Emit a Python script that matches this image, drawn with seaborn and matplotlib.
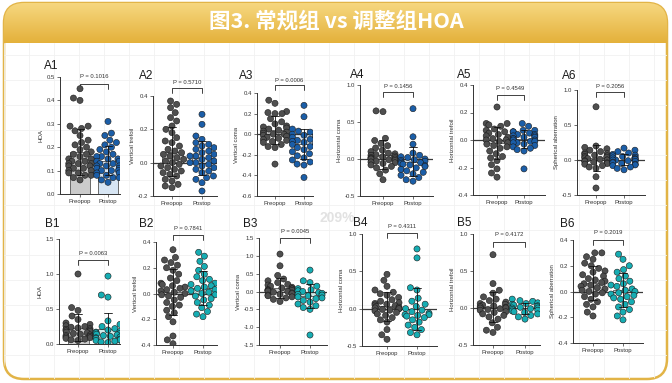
import numpy as np
import pandas as pd
import matplotlib
matplotlib.use('Agg')
import matplotlib.pyplot as plt
import seaborn as sns
from matplotlib.patches import FancyBboxPatch
from matplotlib.colors import LinearSegmentedColormap

W, H = 672, 383

TITLE = '图3. 常规组 vs 调整组HOA'
GROUPS = ['Preopop', 'Postop']
WATERMARK = '209%'

# Panel names, y-axis titles and p-values
PANELS = ['A1', 'A2', 'A3', 'A4', 'A5', 'A6', 'B1', 'B2', 'B3', 'B4', 'B5', 'B6']
YLABELS = ['HOA', 'Vertical trefoil', 'Vertical coma', 'Horizontal coma',
           'Horizontal trefoil', 'Spherical aberration'] * 2
PVALUES = ['0.1016', '0.5710', '0.0006', '0.1456', '0.4549', '0.2056',
           '0.0063', '0.7841', '0.0045', '0.4311', '0.4172', '0.2019']
YTICKS = [
    [0.0, 0.1, 0.2, 0.3, 0.4, 0.5],
    [-0.2, 0.0, 0.2, 0.4],
    [-0.6, -0.4, -0.2, 0.0, 0.2, 0.4],
    [-0.5, 0.0, 0.5, 1.0],
    [-0.4, -0.2, 0.0, 0.2, 0.4],
    [-0.5, 0.0, 0.5, 1.0],
    [0.0, 0.5, 1.0, 1.5],
    [-0.4, -0.2, 0.0, 0.2, 0.4],
    [-1.5, -1.0, -0.5, 0.0, 0.5, 1.0, 1.5],
    [-0.5, 0.0, 0.5, 1.0],
    [-0.5, 0.0, 0.5, 1.0],
    [-0.4, -0.2, 0.0, 0.2, 0.4],
]

# Values read off the swarms (estimated)
a1_pre = [0.45, 0.41, 0.40, 0.29, 0.29, 0.28, 0.27, 0.25, 0.23, 0.22, 0.21, 0.20,
          0.19, 0.18, 0.17, 0.17, 0.16, 0.15, 0.15, 0.14, 0.14, 0.13, 0.13, 0.13,
          0.12, 0.12, 0.11, 0.11, 0.10, 0.10, 0.09, 0.09, 0.08, 0.08, 0.07, 0.06]
a1_post = [0.31, 0.26, 0.25, 0.23, 0.22, 0.21, 0.20, 0.19, 0.18, 0.17, 0.16, 0.16,
           0.15, 0.15, 0.14, 0.14, 0.13, 0.13, 0.12, 0.12, 0.12, 0.11, 0.11, 0.10,
           0.10, 0.10, 0.09, 0.09, 0.08, 0.08, 0.07, 0.07, 0.06, 0.05]
a2_pre = [0.37, 0.35, 0.33, 0.30, 0.27, 0.25, 0.22, 0.20, 0.18, 0.15, 0.13, 0.12,
          0.10, 0.08, 0.07, 0.06, 0.05, 0.04, 0.03, 0.02, 0.01, 0.00, -0.01, -0.02,
          -0.03, -0.04, -0.05, -0.06, -0.07, -0.08, -0.10, -0.11, -0.13, -0.14, -0.15]
a2_post = [0.29, 0.23, 0.16, 0.14, 0.12, 0.11, 0.10, 0.09, 0.08, 0.07, 0.06, 0.05,
           0.04, 0.04, 0.03, 0.02, 0.01, 0.00, 0.00, -0.01, -0.02, -0.03, -0.04,
           -0.05, -0.06, -0.08, -0.09, -0.10, -0.12, -0.17]
a3_pre = [0.33, 0.30, 0.22, 0.21, 0.20, 0.20, 0.15, 0.12, 0.10, 0.08, 0.07, 0.06,
          0.05, 0.04, 0.03, 0.02, 0.01, 0.00, 0.00, -0.01, -0.02, -0.03, -0.04,
          -0.05, -0.06, -0.07, -0.08, -0.10, -0.12, -0.13, -0.29]
a3_post = [0.28, 0.17, 0.05, 0.03, 0.02, 0.00, -0.01, -0.02, -0.03, -0.04, -0.05,
           -0.06, -0.07, -0.08, -0.09, -0.10, -0.11, -0.12, -0.13, -0.15, -0.17,
           -0.19, -0.21, -0.23, -0.25, -0.27, -0.29, -0.30, -0.42]
a4_pre = [0.65, 0.64, 0.28, 0.25, 0.21, 0.18, 0.15, 0.12, 0.10, 0.08, 0.07, 0.06,
          0.05, 0.04, 0.03, 0.02, 0.02, 0.01, 0.00, 0.00, -0.01, -0.02, -0.03,
          -0.04, -0.05, -0.06, -0.08, -0.10, -0.12, -0.15, -0.20, -0.28]
a4_post = [0.68, 0.30, 0.20, 0.08, 0.05, 0.03, 0.02, 0.00, -0.01, -0.02, -0.03,
           -0.04, -0.05, -0.06, -0.07, -0.08, -0.09, -0.10, -0.12, -0.14, -0.16,
           -0.18, -0.20, -0.22, -0.25, -0.28, -0.30]
a5_pre = [0.24, 0.12, 0.12, 0.11, 0.10, 0.08, 0.07, 0.06, 0.05, 0.04, 0.03, 0.02,
          0.01, 0.00, 0.00, -0.01, -0.02, -0.03, -0.04, -0.05, -0.06, -0.08, -0.10,
          -0.12, -0.13, -0.15, -0.18, -0.21, -0.24, -0.27]
a5_post = [0.12, 0.10, 0.07, 0.07, 0.06, 0.06, 0.05, 0.04, 0.04, 0.03, 0.03, 0.02,
           0.02, 0.01, 0.01, 0.00, 0.00, -0.01, -0.01, -0.02, -0.02, -0.03, -0.04,
           -0.05, -0.06, -0.07, -0.08, -0.21]
a6_pre = [0.76, 0.20, 0.18, 0.16, 0.14, 0.12, 0.10, 0.09, 0.08, 0.07, 0.06, 0.05,
          0.04, 0.03, 0.02, 0.01, 0.00, 0.00, -0.01, -0.02, -0.03, -0.04, -0.05,
          -0.06, -0.08, -0.10, -0.12, -0.24, -0.40]
a6_post = [0.17, 0.14, 0.12, 0.10, 0.08, 0.07, 0.06, 0.05, 0.04, 0.03, 0.02, 0.01,
           0.01, 0.00, 0.00, -0.01, -0.02, -0.03, -0.04, -0.05, -0.06, -0.07, -0.08,
           -0.10, -0.12, -0.14]
b1_pre = [1.00, 0.52, 0.48, 0.40, 0.35, 0.30, 0.28, 0.26, 0.25, 0.24, 0.23, 0.22,
          0.21, 0.20, 0.19, 0.18, 0.17, 0.16, 0.15, 0.14, 0.13, 0.12, 0.11, 0.10,
          0.09, 0.08, 0.07, 0.06, 0.05]
b1_post = [0.97, 0.70, 0.67, 0.33, 0.28, 0.25, 0.22, 0.20, 0.18, 0.17, 0.16, 0.15,
           0.14, 0.13, 0.12, 0.11, 0.10, 0.09, 0.08, 0.07, 0.06, 0.05, 0.04, 0.03, 0.02]
b2_pre = [0.34, 0.28, 0.26, 0.24, 0.22, 0.20, 0.18, 0.15, 0.12, 0.10, 0.08, 0.07,
          0.06, 0.05, 0.04, 0.03, 0.02, 0.01, 0.00, -0.01, -0.02, -0.03, -0.05,
          -0.07, -0.09, -0.10, -0.13, -0.15, -0.18, -0.22, -0.33, -0.36, -0.39]
b2_post = [0.32, 0.29, 0.25, 0.21, 0.18, 0.15, 0.13, 0.11, 0.10, 0.08, 0.07, 0.06,
           0.05, 0.04, 0.03, 0.02, 0.01, 0.00, -0.01, -0.02, -0.04, -0.05, -0.07,
           -0.09, -0.11, -0.14, -0.16, -0.18]
b3_pre = [1.05, 0.72, 0.45, 0.35, 0.30, 0.25, 0.20, 0.18, 0.15, 0.12, 0.10, 0.08,
          0.07, 0.05, 0.04, 0.03, 0.02, 0.01, 0.00, -0.02, -0.04, -0.06, -0.08,
          -0.10, -0.12, -0.15, -0.18, -0.22, -0.28]
b3_post = [0.60, 0.30, 0.25, 0.15, 0.08, 0.05, 0.02, 0.00, -0.03, -0.05, -0.08,
           -0.10, -0.12, -0.15, -0.18, -0.20, -0.25, -0.30, -0.35, -0.40, -0.45,
           -0.50, -1.22]
b4_pre = [0.46, 0.38, 0.30, 0.25, 0.22, 0.20, 0.18, 0.15, 0.12, 0.10, 0.08, 0.07,
          0.06, 0.05, 0.04, 0.03, 0.02, 0.01, 0.00, 0.00, -0.01, -0.02, -0.03,
          -0.05, -0.07, -0.09, -0.12, -0.15, -0.18, -0.28, -0.35, -0.41]
b4_post = [0.80, 0.68, 0.28, 0.25, 0.14, 0.10, 0.06, 0.03, 0.00, -0.02, -0.04,
           -0.06, -0.08, -0.08, -0.09, -0.10, -0.12, -0.15, -0.18, -0.22, -0.25,
           -0.28, -0.32, -0.35]
b5_pre = [0.72, 0.33, 0.24, 0.20, 0.15, 0.12, 0.10, 0.08, 0.06, 0.05, 0.04, 0.03,
          0.02, 0.01, 0.00, 0.00, -0.01, -0.02, -0.03, -0.05, -0.06, -0.08, -0.10,
          -0.12, -0.15, -0.20, -0.26, -0.30, -0.33]
b5_post = [0.12, 0.10, 0.09, 0.07, 0.06, 0.05, 0.04, 0.03, 0.02, 0.01, 0.00, 0.00,
           -0.01, -0.02, -0.03, -0.04, -0.05, -0.06, -0.08, -0.10, -0.12, -0.15]
b6_pre = [0.30, 0.30, 0.27, 0.25, 0.22, 0.20, 0.18, 0.16, 0.15, 0.13, 0.12, 0.10,
          0.09, 0.08, 0.07, 0.06, 0.05, 0.04, 0.03, 0.02, 0.01, 0.00, -0.01, -0.02,
          -0.04, -0.06, -0.08, -0.10, -0.12, -0.16, -0.19]
b6_post = [0.29, 0.25, 0.20, 0.17, 0.15, 0.12, 0.10, 0.08, 0.06, 0.05, 0.04, 0.02,
           0.01, 0.00, -0.01, -0.02, -0.03, -0.04, -0.05, -0.06, -0.08, -0.10, -0.12,
           -0.14, -0.16, -0.19, -0.22]

PRE = [a1_pre, a2_pre, a3_pre, a4_pre, a5_pre, a6_pre,
       b1_pre, b2_pre, b3_pre, b4_pre, b5_pre, b6_pre]
POST = [a1_post, a2_post, a3_post, a4_post, a5_post, a6_post,
        b1_post, b2_post, b3_post, b4_post, b5_post, b6_post]

# Layout in screen pixels: spine left, right, top tick, bottom tick,
# x of the two groups, y of p text, y of bracket, panel label x, y
LAYOUT = [
    (60, 120, 77, 194, 80, 108, 77, 84, 44, 66),
    (153, 217, 96, 196, 172, 202, 83, 88, 139, 76),
    (257, 313, 93, 196, 275, 304, 80, 85, 239, 76),
    (360, 433, 85, 196, 383, 413, 87, 92, 350, 75),
    (473, 545, 85, 195, 497, 524, 88, 95, 457, 75),
    (577, 645, 90, 195, 596, 624, 87, 92, 562, 76),
    (59, 120, 239, 344, 78, 108, 253, 260, 45, 224),
    (156, 217, 242, 345, 173, 203, 229, 235, 139, 224),
    (259, 327, 238, 345, 280, 310, 232, 238, 243, 224),
    (362, 437, 234, 346, 387, 417, 227, 233, 353, 223),
    (473, 540, 234, 345, 493, 525, 235, 242, 457, 223),
    (573, 643, 240, 343, 593, 623, 233, 240, 560, 224),
]

GRAY_DOT = '#4f4f4f'
BLUE_DOT = '#1b5ea8'
TEAL_DOT = '#16adb3'
GRAY_BAR = '#cbcbcb'
BLUE_BAR = '#d3e5f7'
TEAL_BAR = '#ccefee'

sns.set_style('ticks')
plt.rcParams['font.family'] = ['Liberation Sans', 'DejaVu Sans']

fig = plt.figure(figsize=(W / 100, H / 100), dpi=100)

# background card, banner and faint grid
bg = fig.add_axes([0, 0, 1, 1], zorder=-5)
bg.set_xlim(0, W)
bg.set_ylim(H, 0)
bg.axis('off')
card = FancyBboxPatch((4, 3), 663, 376, boxstyle='round,pad=0,rounding_size=20',
                      fc='white', ec='#e2b447', lw=1.8, zorder=0)
bg.add_patch(card)
for gx in np.arange(4, 668, 25):
    ln, = bg.plot([gx, gx], [43, 380], color='#f1f1f1', lw=0.6, zorder=1)
    ln.set_clip_path(card)
for gy in np.arange(55, 380, 25):
    ln, = bg.plot([4, 667], [gy, gy], color='#f1f1f1', lw=0.6, zorder=1)
    ln.set_clip_path(card)
banner_cmap = LinearSegmentedColormap.from_list('banner', ['#f6d77f', '#e4b13b'])
grad = np.linspace(0, 1, 64).reshape(-1, 1)
im = bg.imshow(grad, extent=[4, 667, 43, 3], cmap=banner_cmap, aspect='auto',
               origin='upper', zorder=2)
im.set_clip_path(card)
bg.text(W / 2, 21, TITLE, color='white', fontsize=15.5, fontweight='bold',
        ha='center', va='center', family=['Noto Sans CJK SC', 'DejaVu Sans'], zorder=3)
bg.text(337, 218, WATERMARK, color='#e2e2e2', fontsize=10, fontweight='bold',
        ha='center', va='center', zorder=3)


def px_axes(left, right, top, bottom):
    return fig.add_axes([left / W, 1 - bottom / H, (right - left) / W, (bottom - top) / H])


for i, name in enumerate(PANELS):
    left, right, top, bottom, xpre, xpost, ytxt, ybr, lx, ly = LAYOUT[i]
    ax = px_axes(left, right, top, bottom)
    ax.set_facecolor('none')
    row_b = name.startswith('B')
    dot_post = TEAL_DOT if row_b else BLUE_DOT
    bar_post = TEAL_BAR if row_b else BLUE_BAR

    df = pd.DataFrame({
        'group': [GROUPS[0]] * len(PRE[i]) + [GROUPS[1]] * len(POST[i]),
        'value': PRE[i] + POST[i],
    })

    sns.barplot(data=df, x='group', y='value', hue='group', order=GROUPS,
                hue_order=GROUPS, palette=[GRAY_BAR, bar_post], errorbar='sd',
                capsize=0.25, err_kws={'color': '#111111', 'linewidth': 0.6, 'zorder': 4},
                edgecolor='#555555', linewidth=0.6, width=0.7, legend=False, ax=ax)
    yt = YTICKS[i]
    if yt[0] < 0:
        ax.axhline(0, color='#3a3a3a', lw=0.9, zorder=2)
    sns.swarmplot(data=df, x='group', y='value', hue='group', order=GROUPS,
                  hue_order=GROUPS, palette=[GRAY_DOT, dot_post], size=4.4,
                  edgecolor='#1a1a1a', linewidth=0.4, legend=False, ax=ax, zorder=3)

    s = xpost - xpre
    ax.set_xlim((left - xpre) / s, 1 + (right - xpost) / s)
    ax.set_ylim(yt[0], yt[-1])
    ax.set_yticks(yt)
    ax.set_yticklabels([f'{v:.1f}' for v in yt])
    ax.set_xlabel('')
    ax.set_ylabel(YLABELS[i], fontsize=4.3, labelpad=2, color='#333333')
    ax.tick_params(labelsize=4.3, length=2, width=0.5, pad=1.5, colors='#333333')
    for sp in ['top', 'right']:
        ax.spines[sp].set_visible(False)
    for sp in ['left', 'bottom']:
        ax.spines[sp].set_linewidth(0.7)
        ax.spines[sp].set_color('#333333')

    # significance bracket
    trans = ax.get_xaxis_transform()
    f_br = (bottom - ybr) / (bottom - top)
    f_tk = (bottom - ybr - 5) / (bottom - top)
    f_tx = (bottom - ytxt) / (bottom - top)
    ax.plot([0, 0, 1, 1], [f_tk, f_br, f_br, f_tk], color='#222222', lw=0.6,
            transform=trans, clip_on=False)
    ax.text(0.5, f_tx, f'P = {PVALUES[i]}', transform=trans, ha='center',
            va='center', fontsize=4.2, color='#333333')

    fig.text(lx / W, 1 - ly / H, name, fontsize=8.5, ha='left', va='center',
             color='#1a1a1a')

fig.savefig('out.png', dpi=100)
